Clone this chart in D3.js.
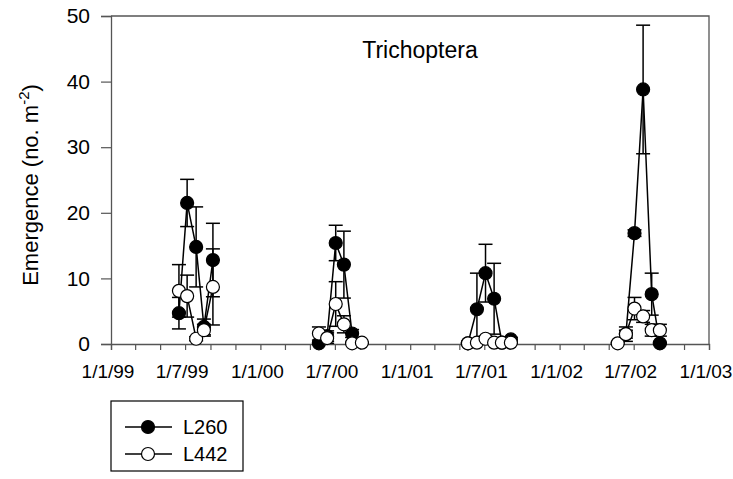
<!DOCTYPE html>
<html>
<head>
<meta charset="utf-8">
<script src="https://cdn.jsdelivr.net/npm/d3@7"></script>
<style>
  body { margin: 0; background: #fff; }
  text { font-family: "Liberation Sans", Arial, sans-serif; fill: #000; }
</style>
</head>
<body>
<div id="chart"></div>
<script>
let width = 733;
let height = 479;

// Sampling dates and mean emergence (+ SE) for each lake
const l260Dates = [
  "1999-06-16", "1999-07-06", "1999-07-28", "1999-08-16", "1999-09-07",
  "2000-05-23", "2000-06-12", "2000-07-03", "2000-07-23", "2000-08-12",
  "2001-05-22", "2001-06-13", "2001-07-04", "2001-07-25", "2001-08-13", "2001-09-04",
  "2002-06-12", "2002-07-03", "2002-07-24", "2002-08-14", "2002-09-03"
];
const l260Values = [4.7, 21.5, 14.8, 2.6, 12.8, 0.1, 1.2, 15.4, 12.1, 1.6, 0.1, 5.3, 10.8, 6.9, 0.2, 0.7, 1.5, 16.9, 38.8, 7.6, 0.1];
const l260Errors = [2.4, 3.6, 6.1, 1.2, 5.6, 0.1, 0.8, 2.7, 5.1, 0.6, 0.1, 5.5, 4.4, 5.4, 0.1, 0.3, 0.6, 0.5, 9.8, 3.2, 0.1];

const l442Dates = [
  "1999-06-16", "1999-07-06", "1999-07-28", "1999-08-16", "1999-09-07",
  "2000-05-23", "2000-06-12", "2000-07-03", "2000-07-23", "2000-08-12", "2000-09-05",
  "2001-05-22", "2001-06-13", "2001-07-04", "2001-07-25", "2001-08-13", "2001-09-04",
  "2002-05-23", "2002-06-12", "2002-07-03", "2002-07-24", "2002-08-14", "2002-09-03"
];
const l442Values = [8.1, 7.3, 0.8, 2.1, 8.7, 1.6, 0.9, 6.1, 3.0, 0.1, 0.2, 0.1, 0.2, 0.8, 0.2, 0.2, 0.2, 0.1, 1.5, 5.4, 4.2, 2.1, 2.1];
const l442Errors = [4.0, 3.2, 0.3, 0.9, 5.8, 1.0, 0.8, 3.4, 1.3, 0.1, 0.1, 0.1, 0.1, 0.4, 0.1, 0.1, 0.1, 0.1, 1.1, 1.7, 0.9, 0.9, 0.9];

const xTickLabels = ["1/1/99", "1/7/99", "1/1/00", "1/7/00", "1/1/01", "1/7/01", "1/1/02", "1/7/02", "1/1/03"];
const yTicks = [0, 10, 20, 30, 40, 50];

const parse = d3.timeParse("%Y-%m-%d");
const parseTick = d3.timeParse("%d/%m/%y");

const series = [
  { name: "L260", fill: "#000", dates: l260Dates, values: l260Values, errors: l260Errors },
  { name: "L442", fill: "#fff", dates: l442Dates, values: l442Values, errors: l442Errors }
];

const plot = { left: 111, right: 709, top: 16, bottom: 344 };

const svg = d3.select("#chart")
  .append("svg")
  .attr("width", width)
  .attr("height", height);

const x = d3.scaleTime()
  .domain([parseTick("1/1/99"), parseTick("1/1/03")])
  .range([plot.left, plot.right]);

const y = d3.scaleLinear()
  .domain([0, 50])
  .range([plot.bottom, plot.top]);

// Frame (top and right edges)
svg.append("path")
  .attr("d", `M${plot.left},${plot.top}H${plot.right}V${plot.bottom}`)
  .attr("fill", "none")
  .attr("stroke", "#555")
  .attr("stroke-width", 1.3);

// X axis: 2-monthly ticks, labels every 6 months
const xAxis = svg.append("g")
  .attr("transform", `translate(0,${plot.bottom})`)
  .call(d3.axisBottom(x)
    .ticks(d3.timeMonth.every(2))
    .tickSize(6)
    .tickFormat(""));
xAxis.select(".domain").attr("stroke", "#555").attr("stroke-width", 1.3);
xAxis.selectAll(".tick line").attr("stroke", "#555").attr("stroke-width", 1.2);

svg.append("g")
  .selectAll("text")
  .data(xTickLabels)
  .enter()
  .append("text")
  .attr("x", d => x(parseTick(d)) - 3)
  .attr("y", plot.bottom + 34)
  .attr("text-anchor", "middle")
  .style("font-size", "19px")
  .text(d => d);

// Y axis
const yAxis = svg.append("g")
  .attr("transform", `translate(${plot.left},0)`)
  .call(d3.axisLeft(y).tickValues(yTicks).tickSize(10).tickPadding(11));
yAxis.select(".domain").attr("stroke", "#555").attr("stroke-width", 1.3);
yAxis.selectAll(".tick line").attr("stroke", "#555").attr("stroke-width", 1.2);
yAxis.selectAll(".tick text")
  .style("font-size", "21px")
  .style("font-family", "'Liberation Sans', Arial, sans-serif")
  .attr("fill", "#000");

// Y axis title with superscript
const yTitle = svg.append("text")
  .attr("transform", `translate(38,${(plot.top + plot.bottom) / 2 + 5}) rotate(-90)`)
  .attr("text-anchor", "middle")
  .style("font-size", "22px");
yTitle.append("tspan").text("Emergence (no. m");
yTitle.append("tspan").attr("dy", -9).style("font-size", "15px").text("-2");
yTitle.append("tspan").attr("dy", 9).text(")");

// Panel title
svg.append("text")
  .attr("x", 420)
  .attr("y", 58)
  .attr("text-anchor", "middle")
  .style("font-size", "23px")
  .text("Trichoptera");

// Lines, error bars and markers for each series
const line = d3.line()
  .x(d => x(d.date))
  .y(d => y(d.value));

const capHalf = 7;

series.forEach(s => {
  const points = s.dates.map((d, i) => ({ date: parse(d), value: s.values[i], err: s.errors[i] }));
  const byYear = d3.groups(points, d => d.date.getFullYear()).map(g => g[1]);

  const g = svg.append("g");

  g.selectAll("path.line")
    .data(byYear)
    .enter()
    .append("path")
    .attr("class", "line")
    .attr("d", line)
    .attr("fill", "none")
    .attr("stroke", "#000")
    .attr("stroke-width", 1.5);

  const bars = g.selectAll("g.err")
    .data(points)
    .enter()
    .append("g")
    .attr("class", "err")
    .attr("stroke", "#000")
    .attr("stroke-width", 1.5);

  bars.append("line")
    .attr("x1", d => x(d.date))
    .attr("x2", d => x(d.date))
    .attr("y1", d => y(Math.max(0, d.value - d.err)))
    .attr("y2", d => y(d.value + d.err));

  bars.append("line")
    .attr("x1", d => x(d.date) - capHalf)
    .attr("x2", d => x(d.date) + capHalf)
    .attr("y1", d => y(d.value + d.err))
    .attr("y2", d => y(d.value + d.err));

  bars.filter(d => d.value - d.err >= 0)
    .append("line")
    .attr("x1", d => x(d.date) - capHalf)
    .attr("x2", d => x(d.date) + capHalf)
    .attr("y1", d => y(d.value - d.err))
    .attr("y2", d => y(d.value - d.err));

  g.selectAll("circle")
    .data(points)
    .enter()
    .append("circle")
    .attr("cx", d => x(d.date))
    .attr("cy", d => y(d.value))
    .attr("r", 6.5)
    .attr("fill", s.fill)
    .attr("stroke", "#000")
    .attr("stroke-width", 1.2);
});

// Legend
const legend = svg.append("g").attr("transform", "translate(111,401)");
legend.append("rect")
  .attr("width", 132)
  .attr("height", 70)
  .attr("fill", "#fff")
  .attr("stroke", "#000")
  .attr("stroke-width", 1.2);

const items = legend.selectAll("g.item")
  .data(series)
  .enter()
  .append("g")
  .attr("class", "item")
  .attr("transform", (d, i) => `translate(0,${26 + i * 27})`);

items.append("line")
  .attr("x1", 14).attr("x2", 61)
  .attr("stroke", "#000")
  .attr("stroke-width", 1.5);
items.append("circle")
  .attr("cx", 37)
  .attr("r", 6.5)
  .attr("fill", d => d.fill)
  .attr("stroke", "#000")
  .attr("stroke-width", 1.2);
items.append("text")
  .attr("x", 72)
  .attr("dy", "0.36em")
  .style("font-size", "20px")
  .text(d => d.name);
</script>
</body>
</html>
